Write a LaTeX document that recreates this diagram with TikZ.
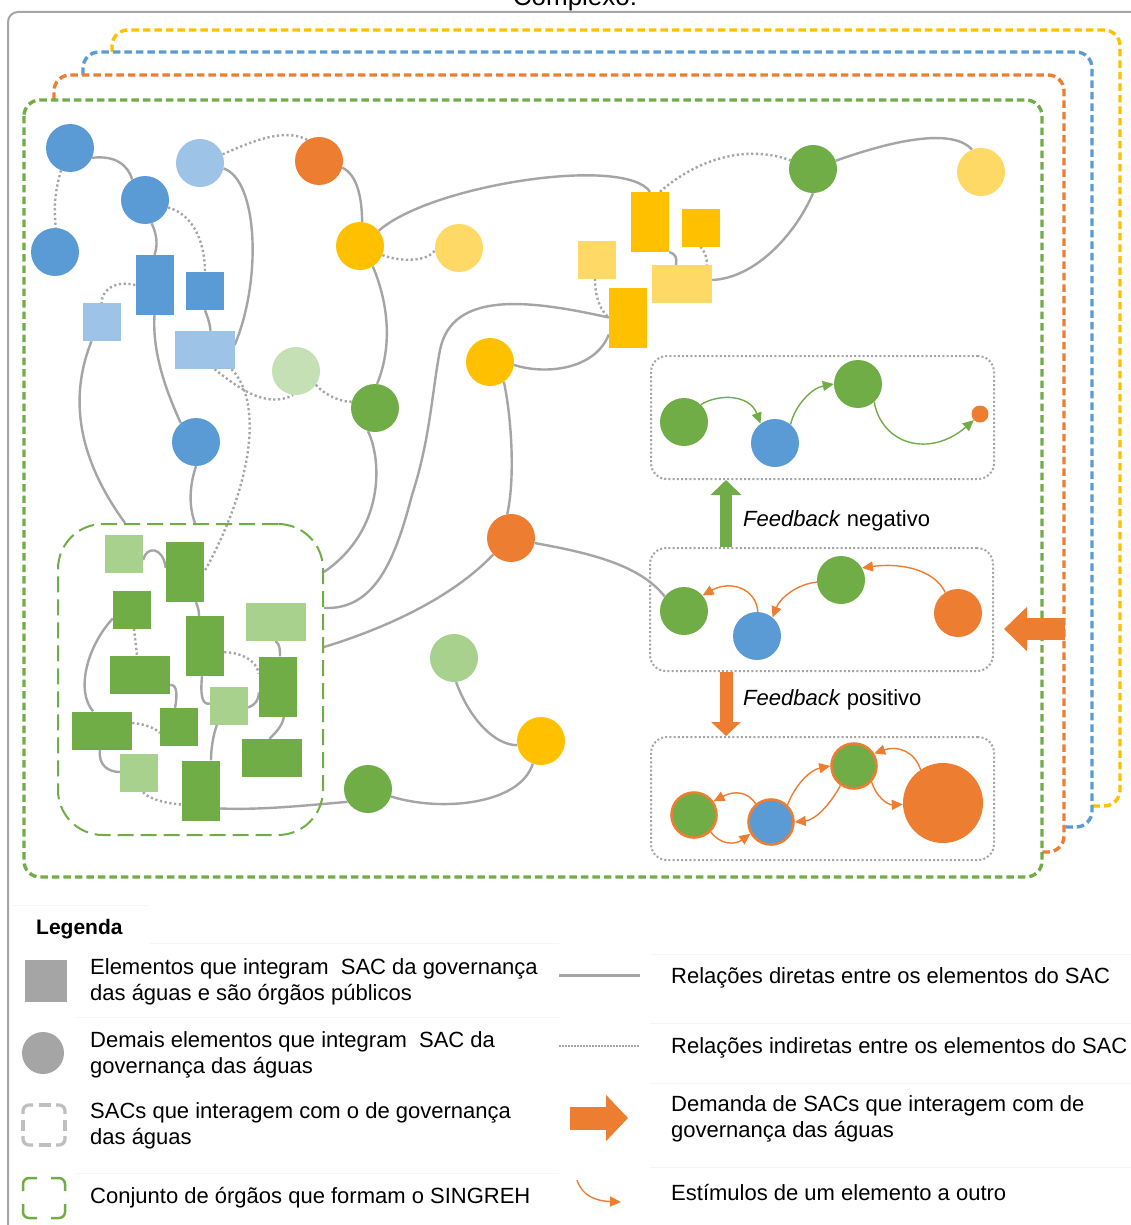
\documentclass[tikz,border=0pt]{standalone}
\usepackage{fontspec}
\setmainfont{Liberation Sans}
\usetikzlibrary{arrows.meta,calc}
\pgfdeclarelayer{paper}
\pgfdeclarelayer{links}
\pgfsetlayers{paper,links,main}

\definecolor{cBlue}{HTML}{5B9BD5}
\definecolor{cLBlue}{HTML}{9DC3E6}
\definecolor{cOrange}{HTML}{ED7D31}
\definecolor{cGold}{HTML}{FFC000}
\definecolor{cLGold}{HTML}{FFD966}
\definecolor{cGreen}{HTML}{70AD47}
\definecolor{cLGreen}{HTML}{A9D18E}
\definecolor{cVLGreen}{HTML}{C5E0B4}
\definecolor{cLine}{HTML}{A5A5A5}
\definecolor{cKey}{HTML}{BFBFBF}

\begin{document}
\begin{tikzpicture}[x=1pt,y=-1pt,
  elem/.style={circle,inner sep=0pt,minimum size=48pt},
  organ/.style={rectangle,inner sep=0pt},
  sq/.style={organ,minimum width=38pt,minimum height=38pt},
  tall/.style={organ,minimum width=38pt,minimum height=60pt},
  wide/.style={organ,minimum width=60pt,minimum height=38pt},
  direct/.style={draw=cLine,line width=2.4pt},
  indirect/.style={draw=cLine,line width=2.4pt,dash pattern=on 2.2pt off 2.6pt},
  stim/.style={line width=1.4pt,-{Triangle[length=11pt,width=10pt]}},
  loopbox/.style={rectangle,rounded corners=16pt,draw=cLine,line width=2pt,
    dash pattern=on 2pt off 2.2pt,minimum width=343pt,minimum height=123pt},
  sacframe/.style={line width=3.4pt,dash pattern=on 7.5pt off 4pt,rounded corners=16pt},
  rimmed/.style={elem,minimum size=45pt,draw=cOrange,line width=2.6pt},
  legtext/.style={inner sep=0pt,anchor=west,font=\fontsize{22}{26}\selectfont,align=left},
  keyline/.style={draw=black!4,line width=1pt},
]
\useasboundingbox (0,0) rectangle (1131,1225);
\begin{pgfonlayer}{paper}
  \fill[white] (0,0) rectangle (1131,1225);
\end{pgfonlayer}

% outer panel and its title
\draw[cLine,line width=2pt,rounded corners=10pt] (8,1300) -- (8,12) -- (1200,12);
\node[inner sep=0pt,anchor=base,font=\fontsize{26}{30}\selectfont] (title) at (575,6) {Complexo:};

% nested systems that interact with the water governance system
\draw[sacframe,cGold]   (112,52) -- (112,30) -- (1120,30) -- (1120,806) -- (1092,806);
\draw[sacframe,cBlue]   (83,75) -- (83,52) -- (1092,52) -- (1092,827) -- (1064,827);
\draw[sacframe,cOrange] (54,100) -- (54,75) -- (1064,75) -- (1064,852) -- (1042,852);
\draw[sacframe,cGreen]  (24,100) rectangle (1042,877);

% SINGREH set
\node[draw=cGreen,line width=2pt,dash pattern=on 16pt off 7pt,rounded corners=45pt,
      minimum width=265pt,minimum height=311pt,inner sep=0pt] (sing) at (190.5,679.5) {};

% elements (circles)
\node[elem,fill=cBlue]    (B1)  at (70,148) {};
\node[elem,fill=cBlue]    (B2)  at (145,200) {};
\node[elem,fill=cBlue]    (B3)  at (55,252) {};
\node[elem,fill=cLBlue]   (LB1) at (200,163) {};
\node[elem,fill=cOrange]  (O1)  at (319,161) {};
\node[elem,fill=cGold]    (Y1)  at (360,246) {};
\node[elem,fill=cLGold]   (LY1) at (459,248) {};
\node[elem,fill=cVLGreen] (VLG) at (296,371) {};
\node[elem,fill=cGreen]   (G1)  at (375,408) {};
\node[elem,fill=cBlue]    (B4)  at (196,442) {};
\node[elem,fill=cGold]    (Y2)  at (490,362) {};
\node[elem,fill=cOrange]  (O2)  at (511,538) {};
\node[elem,fill=cGreen]   (G2)  at (813,169) {};
\node[elem,fill=cLGold]   (LY2) at (981,172) {};
\node[elem,fill=cGreen]   (G3)  at (368,789) {};
\node[elem,fill=cLGreen]  (LG5) at (454,658) {};
\node[elem,fill=cGold]    (Y3)  at (541,741) {};

% public bodies (rectangles)
\node[tall,fill=cBlue]   (R1)   at (154.5,285) {};
\node[sq,fill=cBlue]     (R2)   at (205,291) {};
\node[sq,fill=cLBlue]    (R3)   at (101.5,322) {};
\node[wide,fill=cLBlue]  (R4)   at (204.5,350) {};
\node[tall,fill=cGold]   (YR1)  at (650,222) {};
\node[sq,fill=cGold]     (YR2)  at (700.5,227.5) {};
\node[sq,fill=cLGold]    (LYR1) at (597,259.5) {};
\node[wide,fill=cLGold]  (LYR2) at (682,284) {};
\node[tall,fill=cGold]   (YR3)  at (628,317.5) {};

\node[sq,fill=cLGreen]   (LG1) at (124,554) {};
\node[tall,fill=cGreen]  (GA)  at (185,572) {};
\node[sq,fill=cGreen]    (GB)  at (132,609.5) {};
\node[tall,fill=cGreen]  (GC)  at (205,646) {};
\node[wide,fill=cLGreen] (LG2) at (275.5,622) {};
\node[wide,fill=cGreen]  (GD)  at (140,675) {};
\node[tall,fill=cGreen]  (GE)  at (278,686.5) {};
\node[sq,fill=cLGreen]   (LG3) at (229,705.5) {};
\node[wide,fill=cGreen]  (GF)  at (102,730.5) {};
\node[sq,fill=cGreen]    (GG)  at (179,727) {};
\node[wide,fill=cGreen]  (GH)  at (271.5,758) {};
\node[sq,fill=cLGreen]   (LG4) at (139,773) {};
\node[tall,fill=cGreen]  (GI)  at (201,790.5) {};

% feedback panels
\node[loopbox] (NBox) at (822.5,417.5) {};
\node[loopbox] (MBox) at (821.5,609.5) {};
\node[loopbox] (PBox) at (822.5,798.5) {};

\node[elem,fill=cGreen] (NG1) at (684,422) {};
\node[elem,fill=cBlue]  (NB)  at (775,443) {};
\node[elem,fill=cGreen] (NG2) at (858,384) {};
\node[circle,inner sep=0pt,minimum size=17pt,fill=cOrange] (NO) at (980,414) {};

\node[elem,fill=cGreen]  (MG1) at (684,611) {};
\node[elem,fill=cBlue]   (MB)  at (757,636) {};
\node[elem,fill=cGreen]  (MG2) at (841,580) {};
\node[elem,fill=cOrange] (MO)  at (958,613) {};

\node[rimmed,fill=cGreen] (PG1) at (694,815) {};
\node[rimmed,fill=cBlue]  (PB)  at (771,822) {};
\node[rimmed,fill=cGreen] (PG2) at (854,766) {};
\node[elem,minimum size=80pt,fill=cOrange] (PO) at (943,803) {};

% relations between elements
\begin{pgfonlayer}{links}
\draw[direct] (B1.-24) .. controls (115,155) and (128,165) .. (B2.122);
\draw[indirect] (B1.-112) .. controls (54,195) and (54,210) .. (B3.88);
\draw[direct] (B2.-74) .. controls (157,235) and (158,245) .. (R1.north);
\draw[indirect] (B2.-18) .. controls (195,215) and (205,245) .. (R2.north);
\draw[indirect] (R1.west) .. controls (115,280) and (102,290) .. (R3.north);
\draw[direct] (R2.south) .. controls (208,318) and (210,324) .. ([xshift=6pt]R4.north);
\draw[direct] (LB1.-13) .. controls (258,180) and (262,280) .. ([yshift=5pt]R4.east);
\draw[indirect] (LB1.21) .. controls (255,140) and (285,128) .. (O1.119);
\draw[direct] (O1.-16) .. controls (358,175) and (362,200) .. (Y1.85);
\draw[indirect] (Y1.-22) .. controls (400,262) and (428,262) .. (LY1.185);
\draw[direct] (Y1.39) .. controls (430,185) and (625,155) .. (YR1.north);
\draw[direct] (Y1.-58) .. controls (385,295) and (395,340) .. (G1.85);
\draw[indirect] (VLG.-35) .. controls (325,395) and (340,402) .. (G1.165);
\draw[indirect] ([xshift=10pt]R4.south) .. controls (235,385) and (265,410) .. (VLG.-97);
\draw[indirect] ([xshift=27pt]R4.south) .. controls (262,400) and (255,480) .. (GA.east);
\draw[direct] (R1.south) .. controls (152,355) and (168,395) .. (B4.129);
\draw[direct] (B4.-90) .. controls (188,490) and (190,510) .. ([xshift=4.5pt]sing.north);
\draw[direct] ([xshift=-10pt]R3.south) .. controls (72,390) and (72,450) .. ([xshift=-65.5pt]sing.north);

\draw[direct] (YR3.west) .. controls (530,300) and (452,290) .. (440,350)
  .. controls (432,392) and (430,440) .. (412,495)
  .. controls (395,560) and (375,610) .. ([yshift=71.5pt]sing.east);
\draw[direct] (G1.-107) .. controls (382,460) and (385,530) .. ([yshift=107.5pt]sing.east);
\draw[direct] (Y2.-7) .. controls (545,375) and (595,370) .. ([yshift=-17pt]YR3.west);
\draw[direct] (Y2.-55) .. controls (512,420) and (515,480) .. (O2.99);
\draw[direct] (O2.-137) .. controls (450,600) and (380,630) .. ([yshift=32.5pt]sing.east);
\draw[direct] (O2.-12) .. controls (590,553) and (640,565) .. (MG1.143);

\draw[indirect] ([xshift=10pt]YR1.north) .. controls (690,165) and (740,142) .. (G2.159);
\draw[direct] (G2.20) .. controls (880,145) and (950,125) .. (LY2.112);
\draw[direct] (G2.-90) .. controls (795,235) and (755,278) .. ([yshift=4pt]LYR2.east);
\draw[direct] (YR1.south east) .. controls (676,254) and (677,258) .. ([xshift=-6pt]LYR2.north);
\draw[indirect] (YR2.south) .. controls (705,252) and (707,258) .. ([xshift=25pt]LYR2.north);
\draw[indirect] ([xshift=-2pt]LYR1.south) .. controls (595,300) and (602,312) .. (YR3.west);

\draw[direct] (LG5.-85) .. controls (470,720) and (495,745) .. (Y3.190);
\draw[direct] (Y3.-110) .. controls (520,805) and (440,812) .. (G3.-18);
\draw[direct] (G3.212) .. controls (300,806) and (260,810) .. ([yshift=-18pt]GI.east);

\draw[direct] ([yshift=-6pt]LG1.east) .. controls (146,546) and (163,546) .. ([yshift=4pt]GA.west);
\draw[direct] ([xshift=11pt]GA.south) .. controls (198,608) and (199,610) .. ([xshift=-6pt]GC.north);
\draw[direct] ([yshift=-9pt]GB.west) .. controls (88,645) and (75,690) .. ([xshift=-9pt]GF.north);
\draw[indirect] ([xshift=2pt]GB.south) .. controls (135,638) and (136,646) .. ([xshift=-3pt]GD.north);
\draw[direct] ([yshift=-10pt]GD.east) .. controls (178,684) and (177,698) .. ([xshift=-4pt]GG.north);
\draw[direct] ([xshift=-3pt]GC.south) .. controls (200,698) and (203,705) .. ([yshift=2pt]LG3.west);
\draw[indirect] ([yshift=-6pt]GC.east) .. controls (242,653) and (256,660) .. ([yshift=13pt]GE.west);
\draw[direct] (LG2.south) .. controls (280,644) and (280,650) .. ([xshift=2pt]GE.north);
\draw[direct] ([yshift=-2pt]LG3.east) .. controls (255,705) and (259,700) .. ([yshift=-6pt]GE.west);
\draw[direct] ([xshift=6pt]GE.south) .. controls (282,727) and (275,733) .. ([xshift=-2pt]GH.north);
\draw[direct] ([xshift=-12pt]LG3.south) .. controls (213,735) and (211,750) .. ([xshift=10pt]GI.north);
\draw[indirect] ([yshift=7.5pt]GF.east) .. controls (145,724) and (155,728) .. ([yshift=-6pt]GG.west);
\draw[direct] ([xshift=-2pt]GF.south) .. controls (98,765) and (108,772) .. ([yshift=1pt]LG4.west);
\draw[indirect] ([xshift=4pt]LG4.south) .. controls (150,800) and (170,804) .. ([yshift=-14pt]GI.west);
\end{pgfonlayer}

% stimuli inside the feedback panels
\draw[stim,cGreen] (NG1.46) .. controls (720,393) and (750,395) .. (NB.127);
\draw[stim,cGreen] (NB.50) .. controls (795,405) and (812,388) .. (NG2.180);
\draw[stim,cGreen] (NG2.-48) .. controls (882,445) and (930,458) .. (NO.225);

\draw[stim,cOrange] (MO.122) .. controls (936,572) and (905,562) .. (MG2.30);
\draw[stim,cOrange] (MG2.185) .. controls (797,584) and (780,598) .. (MB.50);
\draw[stim,cOrange] (MB.88) .. controls (756,588) and (730,580) .. (MG1.40);

\draw[stim,cOrange] (PB.130) .. controls (748,792) and (735,790) .. (PG1.35);
\draw[stim,cOrange] (PG1.-45) .. controls (720,845) and (735,845) .. (PB.210);
\draw[stim,cOrange] (PB.46) .. controls (795,785) and (810,770) .. (PG2.180);
\draw[stim,cOrange] (PG2.-125) .. controls (830,805) and (815,820) .. (PB.0);
\draw[stim,cOrange] (PG2.-42) .. controls (876,797) and (888,805) .. (PO.182);
\draw[stim,cOrange] (PO.124) .. controls (915,752) and (898,745) .. (PG2.32);

% feedback block arrows and external demand
\coordinate (ax) at (726,0);
\draw[line width=12pt,cGreen,-{Triangle[length=15pt,width=30pt]}] (MBox.north -| ax) -- (NBox.south -| ax);
\draw[line width=13pt,cOrange,-{Triangle[length=14pt,width=29pt]}] (MBox.south -| ax) -- (PBox.north -| ax);
\coordinate (demIn) at (1065,629);
\draw[line width=22pt,cOrange,-{Triangle[length=23pt,width=43pt]}] (demIn) -- ($(demIn -| MBox.east)+(10,0)$);

\node[legtext] (fbNeg) at (743,521) {\textit{Feedback} negativo};
\node[legtext] (fbPos) at (743,700) {\textit{Feedback} positivo};

% legend
\draw[keyline] (12,905) -- (148,905);
\draw[keyline] (150,943) -- (559,943);
\draw[keyline] (650,954) -- (1131,954);
\draw[keyline] (75,1017) -- (559,1017);
\draw[keyline] (650,1023) -- (1131,1023);
\draw[keyline] (650,1083) -- (1131,1083);
\draw[keyline] (650,1167) -- (1131,1167);
\draw[keyline] (75,1173) -- (559,1173);

\node[inner sep=0pt,anchor=west,font=\fontsize{21}{26}\selectfont\bfseries] (legTitle) at (36,929) {Legenda};

\node[organ,fill=cLine,minimum width=42pt,minimum height=42pt] (kSq) at (46,981) {};
\node[circle,inner sep=0pt,fill=cLine,minimum size=42pt] (kCi) at (43,1053) {};

\begin{scope}[draw=cKey,line width=3.2pt,rounded corners=6pt]
  \draw (23,1114) -- (23,1105) -- (33,1105);
  \draw (56,1105) -- (65,1105) -- (65,1114);
  \draw (65,1136) -- (65,1145) -- (56,1145);
  \draw (33,1145) -- (23,1145) -- (23,1136);
  \draw (39,1105) -- (51,1105);
  \draw (39,1145) -- (51,1145);
  \draw (23,1120) -- (23,1131);
  \draw (65,1120) -- (65,1131);
\end{scope}
\begin{scope}[draw=cGreen,line width=2.5pt,rounded corners=6pt]
  \draw (23,1191) -- (23,1178) -- (37,1178);
  \draw (51,1178) -- (65,1178) -- (65,1191);
  \draw (65,1204) -- (65,1218) -- (51,1218);
  \draw (37,1218) -- (23,1218) -- (23,1204);
\end{scope}

\node[legtext] (tSq) at (90,981.5) {Elementos que integram\ \ SAC da governança\\das águas e são órgãos públicos};
\node[legtext] (tCi) at (90,1054.5) {Demais elementos que integram\ \ SAC da\\governança das águas};
\node[legtext] (tSacs) at (90,1125.5) {SACs que interagem com o de governança\\das águas};
\node[legtext] (tSing) at (90,1198) {Conjunto de órgãos que formam o SINGREH};

\coordinate (kD1) at (559,975);
\coordinate (kD2) at (640,975);
\draw[direct,line width=3pt] (kD1) -- (kD2);
\coordinate (kI1) at (559,1046);
\coordinate (kI2) at (640,1046);
\draw[draw=cLine,line width=2pt,dash pattern=on 1.5pt off 1.5pt] (kI1) -- (kI2);
\coordinate (kA1) at (570,1118);
\coordinate (kA2) at (628,1118);
\draw[line width=23pt,cOrange,-{Triangle[length=22pt,width=45pt]}] (kA1) -- (kA2);
\coordinate (kS1) at (577,1180);
\coordinate (kS2) at (621,1202);
\draw[stim,cOrange] (kS1) .. controls (582,1196) and (596,1201) .. (kS2);

\node[legtext] (tDir) at (671,978) {Relações diretas entre os elementos do SAC};
\node[legtext] (tInd) at (671,1048) {Relações indiretas entre os elementos do SAC};
\node[legtext] (tDem) at (671,1118.5) {Demanda de SACs que interagem com de\\governança das águas};
\node[legtext] (tEst) at (671,1192) {Estímulos de um elemento a outro};
\end{tikzpicture}
\end{document}
